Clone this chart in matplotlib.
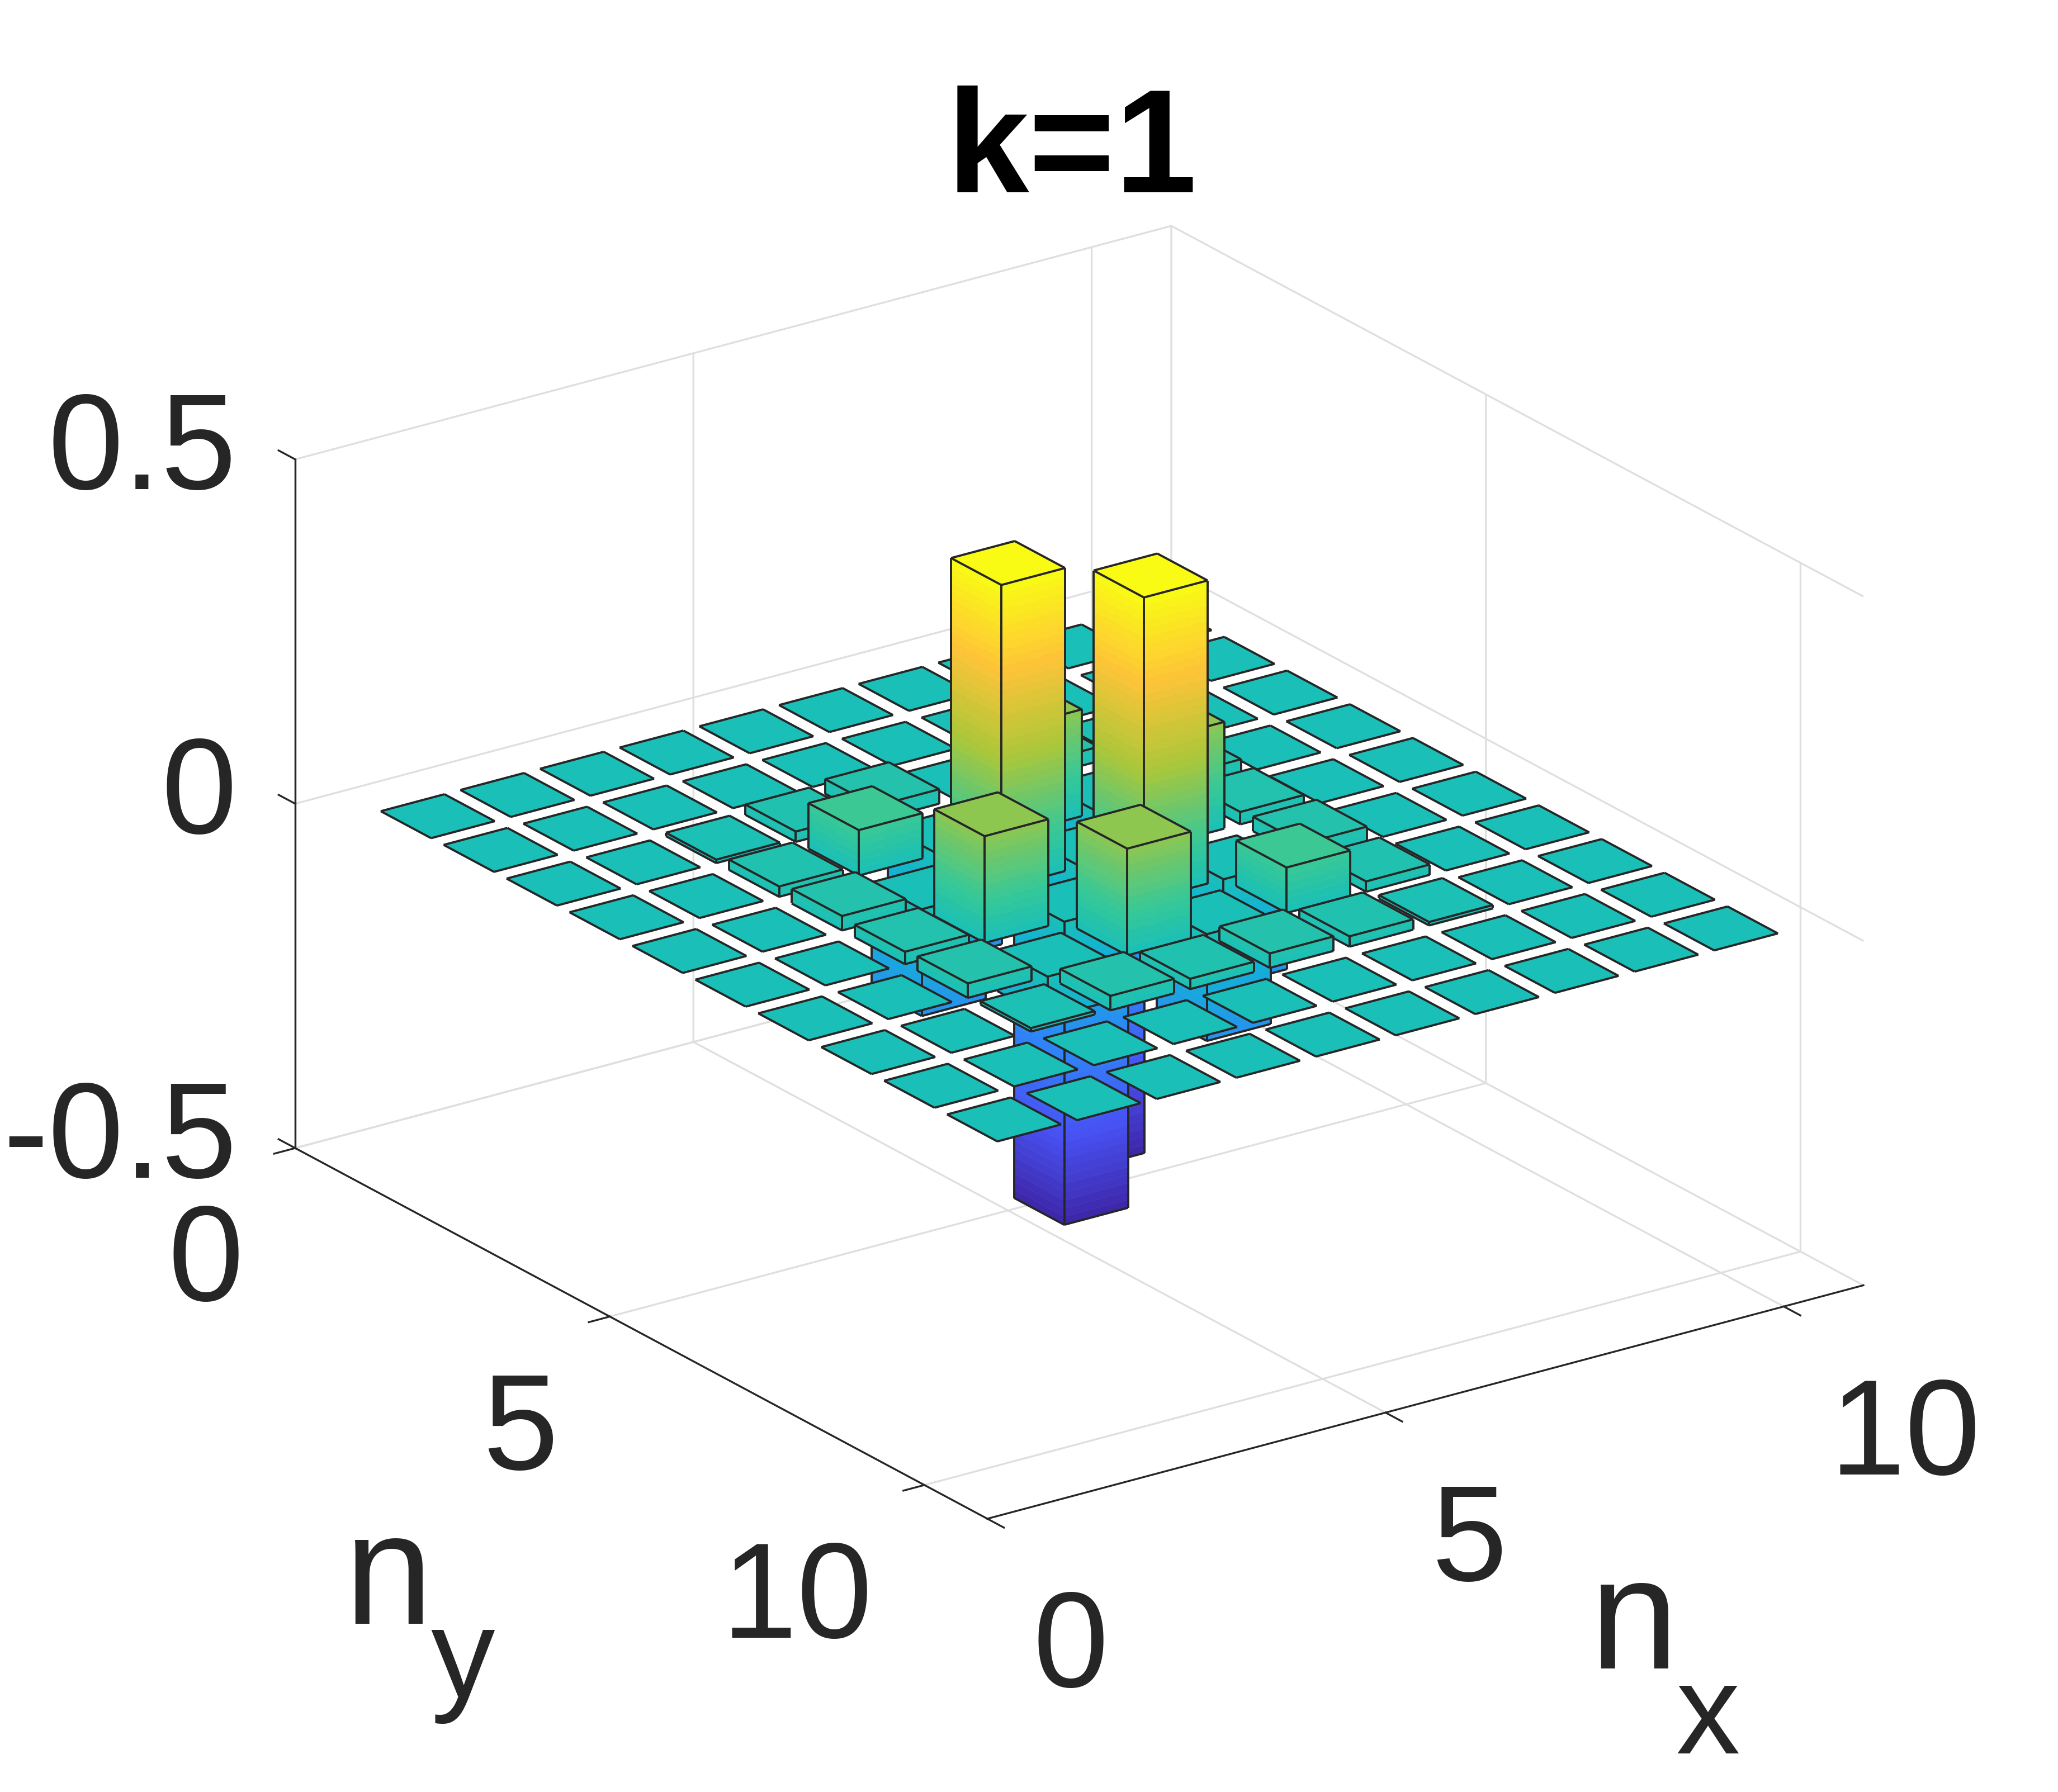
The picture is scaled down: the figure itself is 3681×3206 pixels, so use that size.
import matplotlib as mpl
mpl.use('Agg')
import matplotlib.pyplot as plt
import numpy as np
from matplotlib.colors import LinearSegmentedColormap, Normalize
from mpl_toolkits.mplot3d import proj3d
from mpl_toolkits.mplot3d.art3d import Poly3DCollection, Line3DCollection

# bar heights, one row per nx = 1..10, columns ny = 1..10
row_1 = [0, 0, 0, 0, 0, 0, 0, 0, 0, 0]
row_2 = [0, 0, 0, 0, 0, 0, 0, 0, 0, 0]
row_3 = [0, 0, 0.005, 0.015, 0.021, 0.018, 0.021, 0.005, 0, 0]
row_4 = [0, 0, 0.015, 0.066, -0.155, 0.155, -0.06, 0.021, 0, 0]
row_5 = [0, 0, 0.021, -0.155, 0.44, -0.44, 0.155, 0.015, 0, 0]
row_6 = [0, 0, 0, 0.155, -0.44, 0.44, -0.155, 0.021, 0, 0]
row_7 = [0, 0, 0.021, -0.06, 0.155, -0.155, 0.066, 0.015, 0, 0]
row_8 = [0, 0, 0.005, 0.021, 0.018, 0.021, 0.015, 0.005, 0, 0]
row_9 = [0, 0, 0, 0, 0, 0, 0, 0, 0, 0]
row_10 = [0, 0, 0, 0, 0, 0, 0, 0, 0, 0]
heights = np.array([row_1, row_2, row_3, row_4, row_5, row_6, row_7, row_8, row_9, row_10])

x_ticks = [0, 5, 10]
y_ticks = [0, 5, 10]
z_ticks = [-0.5, 0, 0.5]
z_ticklabels = ['-0.5', '0', '0.5']

W = 3681
H = 3206
DARK = '#262626'
BAR_W = 0.8

plt.rcParams['font.family'] = ['Liberation Sans', 'DejaVu Sans']

parula = LinearSegmentedColormap.from_list('parula', [
    (0.0, (0.2422, 0.1504, 0.6603)), (1 / 7, (0.2810, 0.3228, 0.9579)),
    (2 / 7, (0.1786, 0.5289, 0.9682)), (3 / 7, (0.0689, 0.6948, 0.8394)),
    (0.5, (0.10, 0.75, 0.72)), (4 / 7, (0.2161, 0.7843, 0.5923)),
    (5 / 7, (0.6720, 0.7793, 0.2227)), (6 / 7, (0.9970, 0.7659, 0.2199)),
    (1.0, (0.9769, 0.9839, 0.0805))])
norm = Normalize(heights.min(), heights.max())

fig = plt.figure(figsize=(W / 100, H / 100), dpi=100)
ax = fig.add_subplot(projection='3d', computed_zorder=False)
ax.set_proj_type('ortho')
ax.view_init(elev=22.2, azim=-125.2)
ax.set_box_aspect((817, 915, 567))
ax.set_xlim(0, 11, view_margin=0)
ax.set_ylim(11, 0, view_margin=0)
ax.set_zlim(-0.5, 0.5, view_margin=0)


def draw_bar(cx, cy, v, order):
    x0, x1 = cx - BAR_W / 2, cx + BAR_W / 2
    y0, y1 = cy - BAR_W / 2, cy + BAR_W / 2
    lo, hi = min(v, 0), max(v, 0)
    polys, cols = [], []
    if hi > lo:
        # sides that face the viewer, cut in slices for the colour gradient
        steps = np.linspace(lo, hi, max(2, int((hi - lo) / 0.012) + 2))
        for a, b in zip(steps[:-1], steps[1:]):
            c = parula(norm((a + b) / 2))
            polys.append([(x0, y0, a), (x0, y1, a), (x0, y1, b), (x0, y0, b)])
            polys.append([(x0, y1, a), (x1, y1, a), (x1, y1, b), (x0, y1, b)])
            cols += [c, c]
    polys.append([(x0, y0, hi), (x0, y1, hi), (x1, y1, hi), (x1, y0, hi)])
    cols.append(parula(norm(hi)))
    faces = Poly3DCollection(polys, facecolors=cols, edgecolors=cols, linewidths=0.4, zorder=order)
    ax.add_collection3d(faces, autolim=False)

    segs = [[(x0, y0, hi), (x0, y1, hi)], [(x0, y1, hi), (x1, y1, hi)],
            [(x1, y1, hi), (x1, y0, hi)], [(x1, y0, hi), (x0, y0, hi)]]
    if hi > lo:
        segs += [[(x0, y0, lo), (x0, y1, lo)], [(x0, y1, lo), (x1, y1, lo)],
                 [(x0, y0, lo), (x0, y0, hi)], [(x0, y1, lo), (x0, y1, hi)],
                 [(x1, y1, lo), (x1, y1, hi)]]
    edges = Line3DCollection(segs, colors=DARK, linewidths=2.8, zorder=order + 0.5)
    ax.add_collection3d(edges, autolim=False)


# back to front: large nx and small ny are far from the viewer
cells = [(i + 1, j + 1) for i in range(10) for j in range(10)]
cells.sort(key=lambda c: c[1] - c[0])
for k, (cx, cy) in enumerate(cells):
    draw_bar(cx, cy, heights[cx - 1, cy - 1], 10 + k)

ax.set_xticks(x_ticks)
ax.set_yticks(y_ticks)
ax.set_zticks(z_ticks)
ax.set_zticklabels(z_ticklabels)
ax.tick_params(axis='both', labelsize=175, labelcolor=DARK, color=DARK, width=2.4)
ax.tick_params(axis='x', pad=68)
ax.tick_params(axis='y', pad=60)
ax.tick_params(axis='z', pad=35)
for axis in (ax.xaxis, ax.yaxis, ax.zaxis):
    axis.set_pane_color((1, 1, 1, 0))
    axis.pane.set_edgecolor((1, 1, 1, 0))
    axis.line.set_color(DARK)
    axis.line.set_linewidth(2.4)
    axis._axinfo['grid'].update(color='#dfdfdf', linewidth=2.4)
    axis._axinfo['tick']['linewidth'] = {True: 2.4, False: 1}
# x and y ticks point away from the box on this view
ax.xaxis._axinfo['tick'].update(inward_factor=0.3, outward_factor=0)
ax.yaxis._axinfo['tick'].update(inward_factor=0.3, outward_factor=0)
ax.zaxis._axinfo['tick'].update(inward_factor=0, outward_factor=0.3)
ax.zaxis.set_ticks_position('lower')

for t in ax.xaxis.get_major_ticks():
    t.label1.set_ha('left')
for t in ax.yaxis.get_major_ticks():
    t.label1.set_ha('right')
for t in ax.zaxis.get_major_ticks():
    t.label1.set_ha('right')
    t.label1.set_va('center')

# put the box where it sits in the reference: left and right floor corners
M = ax.get_proj()
xl, yl, _ = proj3d.proj_transform(0, 0, -0.5, M)
xr, yr, _ = proj3d.proj_transform(11, 11, -0.5, M)
vx0, vx1 = ax.viewLim.intervalx
vy0, vy1 = ax.viewLim.intervaly
side = (3333 - 528) / (xr - xl) * (vx1 - vx0)
left = 528 - (xl - vx0) / (vx1 - vx0) * side
bottom = (H - 2054) - (yl - vy0) / (vy1 - vy0) * side
ax.set_position([left / W, bottom / H, side / W, side / H])

fig.text(0.521, 1 - 344 / H, 'k=1', fontsize=190, fontweight='bold', color='black', ha='center', va='baseline')
fig.text(615 / W, 1 - 2905 / H, 'n', fontsize=205, color=DARK, ha='left', va='baseline')
fig.text(770 / W, 1 - 3037 / H, 'y', fontsize=165, color=DARK, ha='left', va='baseline')
fig.text(2843 / W, 1 - 2985 / H, 'n', fontsize=205, color=DARK, ha='left', va='baseline')
fig.text(2997 / W, 1 - 3137 / H, 'x', fontsize=165, color=DARK, ha='left', va='baseline')

fig.savefig('out.png', dpi=100, facecolor='white')
